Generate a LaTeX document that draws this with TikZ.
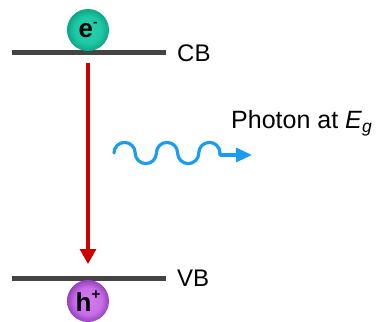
\documentclass[tikz,border=0pt]{standalone}
\usepackage{fontspec}
\setmainfont{Liberation Sans}
\usetikzlibrary{arrows.meta}
\definecolor{band}{HTML}{444444}
\definecolor{trans}{HTML}{CC0000}
\definecolor{phot}{HTML}{1A9CF0}
\pgfdeclareradialshading{elshade}{\pgfpoint{0bp}{0bp}}{%
  color(0bp)=(rgb,255:red,40;green,210;blue,175);
  color(16bp)=(rgb,255:red,30;green,200;blue,165);
  color(25bp)=(rgb,255:red,16;green,165;blue,135);
  color(50bp)=(rgb,255:red,16;green,165;blue,135)}
\pgfdeclareradialshading{hoshade}{\pgfpoint{0bp}{0bp}}{%
  color(0bp)=(rgb,255:red,210;green,125;blue,240);
  color(16bp)=(rgb,255:red,200;green,110;blue,232);
  color(25bp)=(rgb,255:red,150;green,65;blue,190);
  color(50bp)=(rgb,255:red,150;green,65;blue,190)}
\tikzset{
  bandline/.style={band, line width=5pt},
  bandlabel/.style={anchor=west, inner sep=0pt, font=\fontsize{24}{26}\selectfont},
  carrier/.style={circle, minimum size=42pt, inner sep=0pt, font=\fontsize{26}{26}\selectfont\bfseries},
  wave/.style={phot, line width=3.2pt},
}
\begin{document}
\begin{tikzpicture}[x=1pt,y=-1pt]
\useasboundingbox (0,0) rectangle (377,321);
% bands
\coordinate (cbL) at (12,53);
\coordinate (cbR) at (166,53);
\coordinate (vbL) at (12,278);
\coordinate (vbR) at (166,278);
\draw[bandline] (cbL) -- (cbR);
\draw[bandline] (vbL) -- (vbR);
\node[bandlabel] (cb) at (177,53) {CB};
\node[bandlabel] (vb) at (177,278) {VB};
% carriers
\node[carrier, shading=elshade] (el) at (88,30) {e\raisebox{0.45em}{\fontsize{13}{13}\selectfont -}};
\node[carrier, shading=hoshade] (ho) at (88,301) {h\raisebox{0.45em}{\fontsize{15}{15}\selectfont +}};
% transition
\coordinate (tA) at (88,63);
\coordinate (tB) at (88,264);
\draw[trans, line width=3.2pt, -{Triangle[length=15pt,width=16pt]}] (tA) -- (tB);
% photon
\coordinate (wS) at (114,153);
\coordinate (wM) at (220,155);
\coordinate (wE) at (252,155);
\draw[wave, line cap=round, line join=round] (wS)
  arc[start angle=180, end angle=360, radius=10.6]
  arc[start angle=180, end angle=0, radius=10.6]
  arc[start angle=180, end angle=360, radius=10.6]
  arc[start angle=180, end angle=0, radius=10.6]
  arc[start angle=180, end angle=360, radius=10.6]
  to[out=80, in=180] (wM);
\draw[wave, -{Triangle[length=16pt,width=14pt]}] (wM) -- (wE);
\node[anchor=west, inner sep=0pt, font=\fontsize{25}{26}\selectfont] (lbl) at (231,123) {Photon at \textit{E}\textsubscript{\textit{g}}};
\end{tikzpicture}
\end{document}
